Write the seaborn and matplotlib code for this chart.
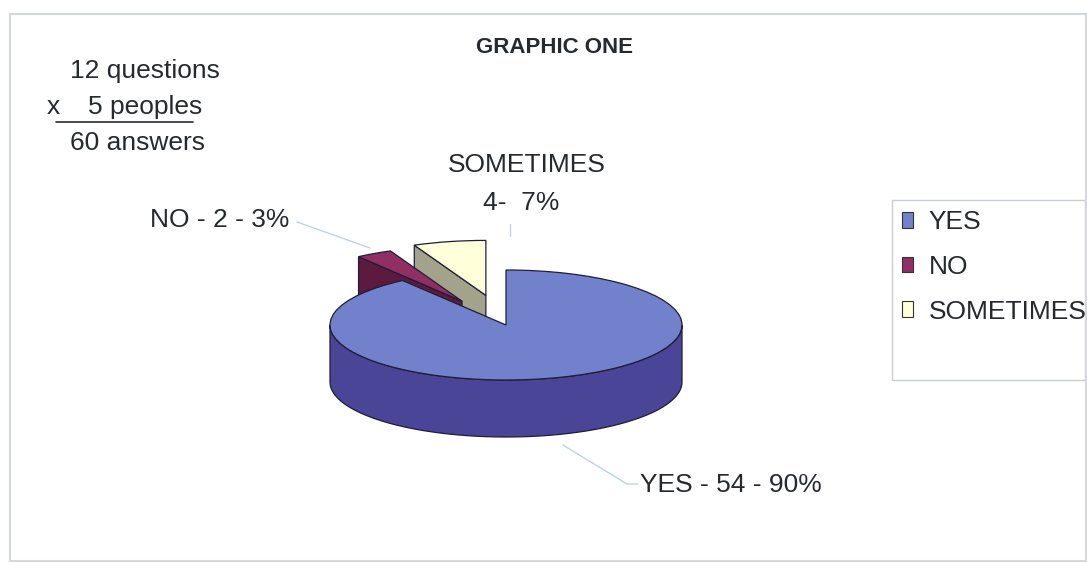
import numpy as np
import matplotlib
matplotlib.use("Agg")
import matplotlib.pyplot as plt
import seaborn as sns
from matplotlib.patches import Polygon, Patch, Rectangle
from matplotlib.lines import Line2D

# Survey data
categories = ["YES", "NO", "SOMETIMES"]
answers = [54, 2, 4]
questions = 12
people = 5

# Slice styling
top_colors = ["#7181CC", "#912E63", "#FFFFD9"]
side_colors = ["#4A4596", "#5C1A3E", "#A3A28A"]
explode = [0.0, 0.5, 0.55]

sns.set_theme(style="white")
plt.rcParams["font.family"] = ["Liberation Sans", "DejaVu Sans"]

W, H = 1087, 563
fig = plt.figure(figsize=(W / 100, H / 100), dpi=100)
fig.patch.set_facecolor("white")

total = sum(answers)
pct = [int(round(100 * a / total)) for a in answers]

# Pie geometry (pixels): centre, radii of the tilted disc, thickness
cx, cy, rx, ry, depth = 506, 325, 176, 55, 57
edge = "#1e1e38"

ax = fig.add_axes([0, 0, 1, 1])
wedges, _ = ax.pie(answers, startangle=90, counterclock=False, explode=explode,
                   colors=top_colors,
                   wedgeprops=dict(edgecolor=edge, linewidth=0.9))
ax.set_aspect("auto")
ax.set_xlim(-cx / rx, (W - cx) / rx)
ax.set_ylim(-(H - cy) / ry, cy / ry)
ax.axis("off")

h = depth / ry


def arc_pts(c, r, a0, a1, n=120):
    t = np.radians(np.linspace(a0, a1, n))
    return np.column_stack([c[0] + r * np.cos(t), c[1] + r * np.sin(t)])


# draw slices back to front
order = sorted(range(len(wedges)), key=lambda i: -wedges[i].center[1])
for rank, i in enumerate(order):
    w = wedges[i]
    c, r, t1, t2 = w.center, w.r, w.theta1, w.theta2
    zs, zt = 2 * rank + 1, 2 * rank + 2
    faces = []
    # outer rim facing the viewer (lower half of the ellipse)
    for k in (-1, 0, 1):
        lo, hi = max(t1, -180 + 360 * k), min(t2, 360 * k)
        if hi - lo > 0.1:
            top = arc_pts(c, r, lo, hi)
            bot = top - [0, h]
            faces.append(np.vstack([top, bot[::-1]]))
    # radial cut faces turned toward the viewer
    for ang, vis in ((t1, np.cos(np.radians(t1)) > 1e-6),
                     (t2, np.cos(np.radians(t2)) < -1e-6)):
        if vis:
            p = (c[0] + r * np.cos(np.radians(ang)), c[1] + r * np.sin(np.radians(ang)))
            faces.append(np.array([c, p, (p[0], p[1] - h), (c[0], c[1] - h)]))
    for f in faces:
        ax.add_patch(Polygon(f, closed=True, facecolor=side_colors[i],
                             edgecolor=edge, linewidth=0.9, zorder=zs))
    w.set_zorder(zt)

txt = "#262a2e"
lead = "#bcd4e6"
fs = 19


def fx(x):
    return x / W


def fy(y):
    return 1 - y / H


# Title
fig.text(fx(555), fy(53), "GRAPHIC ONE", ha="center", va="baseline",
         fontsize=16, weight="bold", color=txt)

# Answer count
fig.text(fx(70), fy(78), f"{questions} questions", ha="left", va="baseline", fontsize=fs, color=txt)
fig.text(fx(47), fy(114), "x", ha="left", va="baseline", fontsize=fs, color=txt)
fig.text(fx(88), fy(114), f"{people} peoples", ha="left", va="baseline", fontsize=fs, color=txt)
fig.add_artist(Line2D([fx(56), fx(193)], [fy(122), fy(122)], color=txt, lw=1.2,
                      transform=fig.transFigure))
fig.text(fx(70), fy(150), f"{questions * people} answers", ha="left", va="baseline",
         fontsize=fs, color=txt)

# Slice labels with leader lines
fig.add_artist(Line2D([fx(297), fx(370)], [fy(222), fy(248)], color=lead, lw=1,
                      transform=fig.transFigure))
fig.add_artist(Line2D([fx(510), fx(510)], [fy(224), fy(236)], color=lead, lw=1,
                      transform=fig.transFigure))
fig.add_artist(Line2D([fx(563), fx(627), fx(638)], [fy(445), fy(484), fy(484)], color=lead, lw=1,
                      transform=fig.transFigure))

fig.text(fx(150), fy(227), f"{categories[1]} - {answers[1]} - {pct[1]}%",
         ha="left", va="baseline", fontsize=fs, color=txt)
fig.text(fx(527), fy(172), categories[2], ha="center", va="baseline", fontsize=fs, color=txt)
fig.text(fx(521), fy(210), f"{answers[2]}-  {pct[2]}%", ha="center", va="baseline",
         fontsize=fs, color=txt)
fig.text(fx(640), fy(492), f"{categories[0]} - {answers[0]} - {pct[0]}%",
         ha="left", va="baseline", fontsize=fs, color=txt)

# Legend
fig.add_artist(Rectangle((fx(892), fy(380)), 193 / W, 180 / H, transform=fig.transFigure,
                         fill=False, edgecolor="#c9ced4", lw=1))
handles = [Patch(facecolor=top_colors[i], edgecolor="#333333", linewidth=0.8)
           for i in range(len(categories))]
fig.legend(handles, categories, loc="upper left", bbox_to_anchor=(fx(902), fy(210)),
           frameon=False, fontsize=fs, handlelength=0.4, handleheight=0.55,
           handletextpad=0.6, labelspacing=0.79, borderaxespad=0, borderpad=0,
           labelcolor=txt)

# Chart frame
fig.add_artist(Rectangle((fx(10), fy(561)), 1076 / W, 547 / H, transform=fig.transFigure,
                         fill=False, edgecolor="#d3d8dd", lw=1.5))

fig.savefig("out.png", dpi=100, facecolor="white")
